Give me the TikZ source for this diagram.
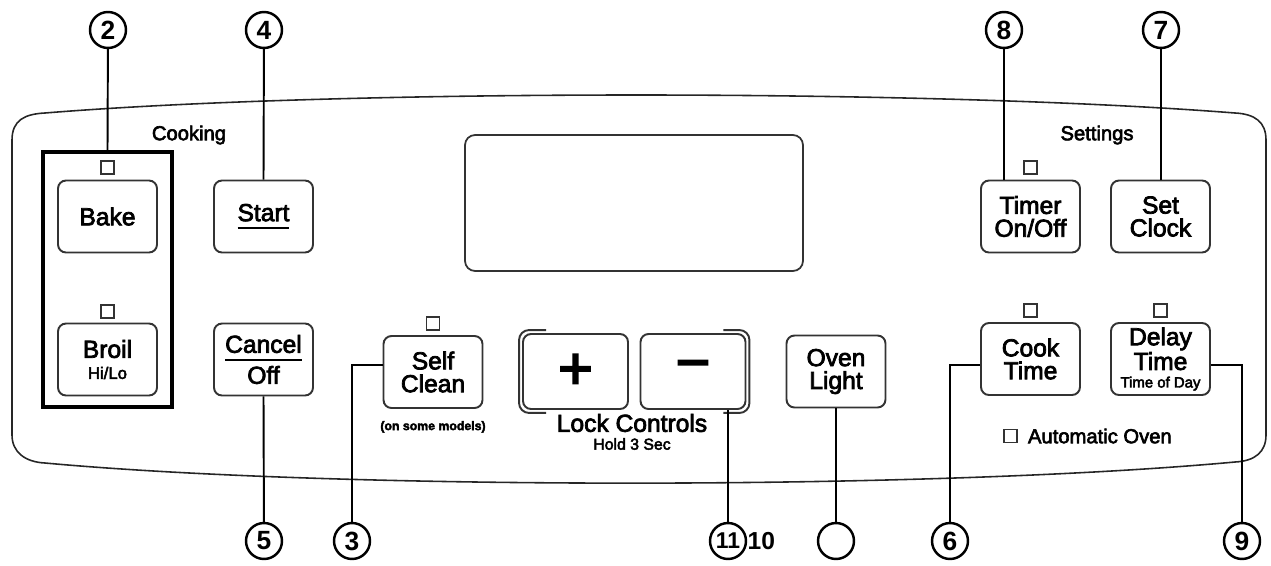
\documentclass[tikz,border=0pt]{standalone}
\usepackage{fontspec}
\setmainfont{Liberation Sans}[RawFeature={embolden=3}]
\newfontfamily\calloutfont{Liberation Sans}[UprightFont=*-Bold]
\usetikzlibrary{positioning}
\newcommand{\barunder}[1]{\leavevmode\setbox0\hbox{#1}\rlap{\rule[-4.5pt]{\wd0}{1.1pt}}\box0}
\begin{document}
\begin{tikzpicture}[x=0.02cm, y=-0.02cm,
    btn/.style={draw=black!80, line width=1.1pt, rounded corners=0.16cm, minimum width=1.98cm, minimum height=1.44cm, align=center, inner sep=0pt, font=\fontsize{14}{13}\selectfont},
    lamp/.style={draw=black!80, line width=0.9pt, minimum size=0.26cm, inner sep=0pt},
    callout/.style={circle, draw, line width=1.4pt, minimum size=0.72cm, inner sep=0pt, font=\calloutfont\fontsize{15}{15}\selectfont},
    lead/.style={line width=1.1pt}]
    \useasboundingbox (0,0) rectangle (1271,565);
    % panel outline
    \draw[black!85, line width=0.9pt] (12,140) .. controls (12,120) and (25,114) .. (45,113) .. controls (340,89) and (930,89) .. (1235,113) .. controls (1255,114) and (1266,122) .. (1266,140) -- (1266,435) .. controls (1266,452) and (1255,461) .. (1235,462) .. controls (930,490) and (340,490) .. (45,463) .. controls (25,462) and (12,452) .. (12,435) -- cycle;
    \node[draw=black!80, line width=1pt, rounded corners=0.2cm, minimum width=6.76cm, minimum height=2.72cm] (screen) at (634,203) {};
    \node[font=\fontsize{11.5}{11.5}\selectfont] (cooking) at (189,135) {Cooking};
    \node[font=\fontsize{11.5}{11.5}\selectfont] (settings) at (1097,135) {Settings};
    % cooking group
    \node[draw, line width=2.3pt, minimum width=2.58cm, minimum height=5.1cm] (grp) at (107.5,279.5) {};
    \node[btn] (bake) at (107.5,216.5) {Bake};
    \node[btn] (broil) at (107.5,359.5) {Broil\\[-1pt]{\fontsize{9.5}{9.5}\selectfont Hi/Lo}};
    \node[lamp, above=0.1cm of bake] (bakelamp) {};
    \node[lamp, above=0.08cm of broil] (broillamp) {};
    \node[btn] (start) at (263.5,216.5) {\barunder{Start}};
    \node[btn] (cancel) at (263.5,359.5) {\barunder{Cancel}\\[2pt]Off};
    \node[btn] (self) at (433,372) {Self\\Clean};
    \node[lamp, above=0.08cm of self] (selflamp) {};
    \node[below=0.12cm of self, font=\bfseries\fontsize{7}{7}\selectfont] (models) {(on some models)};
    % lock controls
    \node[btn, minimum width=2.1cm, minimum height=1.5cm, font=\fontsize{34}{34}\selectfont] (plus) at (575.5,371.5) {+};
    \node[btn, minimum width=2.1cm, minimum height=1.5cm, font=\fontsize{34}{34}\selectfont] (minus) at (693,371.5) {−};
    \draw[black!80, line width=1.1pt, rounded corners=0.2cm] ([xshift=0.48cm,yshift=0.06cm]plus.north west) -| ([xshift=-0.06cm]plus.west) |- ([xshift=0.48cm,yshift=-0.06cm]plus.south west);
    \draw[black!80, line width=1.1pt, rounded corners=0.2cm] ([xshift=-0.46cm,yshift=0.06cm]minus.north east) -| ([xshift=0.06cm]minus.east) |- ([xshift=-0.46cm,yshift=-0.06cm]minus.south east);
    \node[font=\fontsize{14}{14}\selectfont] (lock) at (632,423) {Lock Controls};
    \node[font=\fontsize{9}{9}\selectfont] (hold) at (632,444) {Hold 3 Sec};
    \node[btn] (light) at (836,371.5) {Oven\\Light};
    % settings group
    \node[btn] (timer) at (1030.5,216.5) {Timer\\On/Off};
    \node[lamp, above=0.1cm of timer] (timerlamp) {};
    \node[btn] (clock) at (1160.5,216.5) {Set\\Clock};
    \node[btn] (cook) at (1030.5,359) {Cook\\Time};
    \node[lamp, above=0.08cm of cook] (cooklamp) {};
    \node[btn] (delay) at (1160.5,359) {Delay\\Time\\[-3pt]{\fontsize{8.5}{8.5}\selectfont Time of Day}};
    \node[lamp, above=0.08cm of delay] (delaylamp) {};
    \node[lamp] (autolamp) at (1010.5,436) {};
    \node[right=0.08cm of autolamp, font=\fontsize{11.5}{11.5}\selectfont] (auto) {Automatic Oven};
    % callouts
    \node[callout] (c2) at (108,30) {2};
    \node[callout] (c4) at (264,30) {4};
    \node[callout] (c8) at (1004,30) {8};
    \node[callout] (c7) at (1161,30) {7};
    \node[callout] (c5) at (264,541) {5};
    \node[callout] (c3) at (352,541) {3};
    \node[callout, font=\calloutfont\fontsize{13}{13}\selectfont] (c11) at (728,541) {11};
    \node[right=0pt of c11, inner sep=0pt, font=\calloutfont\fontsize{14}{14}\selectfont] (ten) {10};
    \node[callout] (cblank) at (836,541) {};
    \node[callout] (c6) at (950,541) {6};
    \node[callout] (c9) at (1242,541) {9};
    \draw[lead] (c2) -- (grp.north);
    \draw[lead] (c4) -- (start.north);
    \draw[lead] (c8) -- (c8 |- timer.north);
    \draw[lead] (c7) -- (c7 |- clock.north);
    \draw[lead] (cancel.south) -- (c5);
    \draw[lead] ([yshift=0.14cm]self.west) -| (c3);
    \draw[lead] (c11 |- minus.south) -- (c11);
    \draw[lead] (light.south) -- (cblank);
    \draw[lead] ([yshift=-0.12cm]cook.west) -| (c6);
    \draw[lead] ([yshift=-0.12cm]delay.east) -| (c9);
\end{tikzpicture}
\end{document}
